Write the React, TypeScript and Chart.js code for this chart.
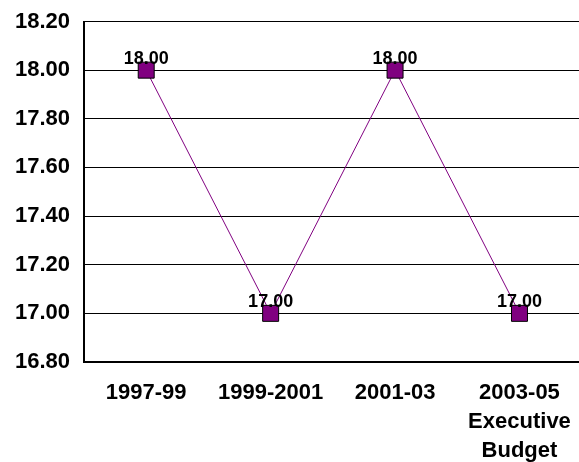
import React, { useEffect, useRef } from "react";
import { Chart, registerables } from "chart.js";

Chart.register(...registerables);

const categories: (string | string[])[] = ["1997-99", "1999-2001", "2001-03", ["2003-05", "Executive", "Budget"]];
const values: number[] = [18.0, 17.0, 18.0, 17.0];
const yMin = 16.8;
const yMax = 18.2;
const yStep = 0.2;

const FONT = "'Liberation Sans', Arial, sans-serif";

const dataLabelPlugin = {
  id: "dataLabels",
  afterDatasetsDraw(chart: any) {
    const ctx = chart.ctx;
    const meta = chart.getDatasetMeta(0);
    ctx.save();
    ctx.font = `bold 18px ${FONT}`;
    ctx.fillStyle = "#000";
    ctx.textAlign = "center";
    ctx.textBaseline = "alphabetic";
    meta.data.forEach((pt: any, i: number) => {
      ctx.fillText(values[i].toFixed(2), pt.x, pt.y - 6.5);
    });
    ctx.restore();
  },
};

export default function App() {
  const ref = useRef<HTMLCanvasElement>(null);
  useEffect(() => {
    if (!ref.current) return;
    const chart = new Chart(ref.current, {
      type: "line",
      data: {
        labels: categories,
        datasets: [
          {
            data: values,
            borderColor: "#800080",
            borderWidth: 1,
            backgroundColor: "#800080",
            pointStyle: "rect",
            pointRadius: 11.3,
            pointBackgroundColor: "#800080",
            pointBorderColor: "#000",
            pointBorderWidth: 1,
            tension: 0,
          },
        ],
      },
      options: {
        responsive: false,
        animation: false,
        devicePixelRatio: 1,
        layout: { padding: { top: 21.5, right: 8, left: 0, bottom: 0 } },
        plugins: { legend: { display: false }, tooltip: { enabled: false } },
        scales: {
          x: {
            offset: true,
            grid: { display: false, drawTicks: false },
            border: { display: true, color: "#000", width: 2 },
            ticks: {
              color: "#000",
              padding: 17,
              maxRotation: 0,
              autoSkip: false,
              font: { family: FONT, size: 22, weight: "bold", lineHeight: 1.3 },
            },
            afterFit(scale: any) {
              scale.height = 100;
              scale.paddingLeft = 0;
              scale.paddingRight = 0;
            },
          },
          y: {
            min: yMin,
            max: yMax,
            grid: { color: "#000", lineWidth: 1, drawTicks: false },
            border: { display: true, color: "#000", width: 2 },
            ticks: {
              stepSize: yStep,
              color: "#000",
              padding: 14,
              font: { family: FONT, size: 22, weight: "bold" },
              callback: (v: any) => Number(v).toFixed(2),
            },
            afterFit(scale: any) {
              scale.width = 84;
              scale.paddingTop = 0;
              scale.paddingBottom = 0;
            },
          },
        },
      },
      plugins: [dataLabelPlugin],
    } as any);
    return () => chart.destroy();
  }, []);
  return (
    <div
      style={{
        position: "fixed",
        left: 0,
        top: 0,
        width: 579,
        height: 462,
        overflow: "hidden",
        background: "#fff",
      }}
    >
      <canvas ref={ref} width={594} height={462} style={{ display: "block", width: 594, height: 462 }} />
    </div>
  );
}
